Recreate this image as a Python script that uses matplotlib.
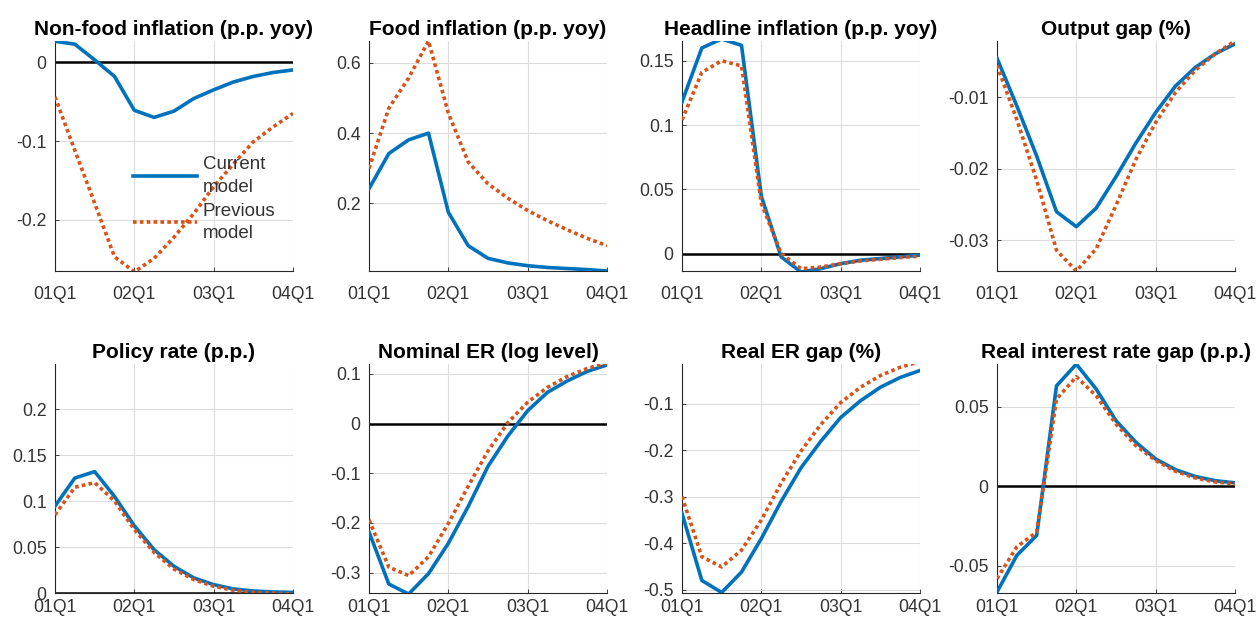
import matplotlib
matplotlib.use("Agg")
import matplotlib.pyplot as plt
from matplotlib.ticker import FormatStrFormatter

plt.rcParams['font.family'] = ['Liberation Sans', 'DejaVu Sans']

quarters = ['01Q1', '01Q2', '01Q3', '01Q4', '02Q1', '02Q2', '02Q3', '02Q4',
            '03Q1', '03Q2', '03Q3', '03Q4', '04Q1']
tick_labels = ['01Q1', '02Q1', '03Q1', '04Q1']

titles = ['Non-food inflation (p.p. yoy)', 'Food inflation (p.p. yoy)',
          'Headline inflation (p.p. yoy)', 'Output gap (%)',
          'Policy rate (p.p.)', 'Nominal ER (log level)',
          'Real ER gap (%)', 'Real interest rate gap (p.p.)']

# current model (blue) and previous model (red) per panel
nonfood_cur = [0.0266, 0.023, 0.003, -0.018, -0.061, -0.070, -0.062, -0.046,
               -0.035, -0.025, -0.018, -0.013, -0.0097]
nonfood_prev = [-0.044, -0.112, -0.179, -0.247, -0.266, -0.249, -0.222, -0.192,
                -0.158, -0.129, -0.101, -0.082, -0.065]
food_cur = [0.242, 0.342, 0.381, 0.400, 0.175, 0.080, 0.044, 0.031,
            0.023, 0.018, 0.015, 0.012, 0.008]
food_prev = [0.300, 0.471, 0.557, 0.662, 0.457, 0.318, 0.256, 0.215,
             0.180, 0.151, 0.125, 0.101, 0.080]
headline_cur = [0.118, 0.160, 0.167, 0.162, 0.0445, -0.0026, -0.0144, -0.0118,
                -0.0079, -0.0052, -0.0039, -0.0026, -0.0013]
headline_prev = [0.104, 0.141, 0.150, 0.146, 0.039, 0.0, -0.0118, -0.0105,
                 -0.0079, -0.0058, -0.0045, -0.0031, -0.0021]
gap_cur = [-0.0045, -0.0112, -0.0182, -0.0260, -0.0281, -0.0255, -0.0211, -0.0164,
           -0.0121, -0.0084, -0.0058, -0.0039, -0.0025]
gap_prev = [-0.0055, -0.0131, -0.0216, -0.0314, -0.0343, -0.0312, -0.0251, -0.0187,
            -0.0135, -0.0093, -0.0062, -0.0039, -0.0021]
policy_cur = [0.0945, 0.125, 0.132, 0.105, 0.073, 0.047, 0.029, 0.0164,
              0.0091, 0.0044, 0.0022, 0.0011, 0.0007]
policy_prev = [0.085, 0.115, 0.120, 0.100, 0.069, 0.044, 0.026, 0.0145,
               0.0073, 0.0029, 0.0007, 0.0, -0.001]
ner_cur = [-0.218, -0.323, -0.343, -0.302, -0.241, -0.167, -0.086, -0.025,
           0.026, 0.063, 0.086, 0.105, 0.118]
ner_prev = [-0.194, -0.289, -0.306, -0.268, -0.201, -0.126, -0.055, 0.002,
            0.043, 0.073, 0.095, 0.111, 0.122]
rer_cur = [-0.336, -0.480, -0.506, -0.462, -0.390, -0.310, -0.238, -0.181,
           -0.130, -0.094, -0.065, -0.044, -0.029]
rer_prev = [-0.300, -0.429, -0.451, -0.415, -0.350, -0.271, -0.202, -0.145,
            -0.098, -0.065, -0.040, -0.022, -0.010]
rir_cur = [-0.0664, -0.0434, -0.0309, 0.0630, 0.0766, 0.0610, 0.0411, 0.0276,
           0.0171, 0.0104, 0.0061, 0.0035, 0.0021]
rir_prev = [-0.058, -0.038, -0.0288, 0.0547, 0.0687, 0.0568, 0.0390, 0.0255,
            0.0161, 0.0094, 0.0052, 0.0027, 0.0015]

current = [nonfood_cur, food_cur, headline_cur, gap_cur,
           policy_cur, ner_cur, rer_cur, rir_cur]
previous = [nonfood_prev, food_prev, headline_prev, gap_prev,
            policy_prev, ner_prev, rer_prev, rir_prev]

ylims = [(-0.265, 0.027), (0.008, 0.662), (-0.0136, 0.1654), (-0.0343, -0.0021),
         (0, 0.249), (-0.341, 0.120), (-0.507, -0.015), (-0.067, 0.0767)]
yticks = [[-0.2, -0.1, 0], [0.2, 0.4, 0.6], [0, 0.05, 0.1, 0.15],
          [-0.03, -0.02, -0.01], [0, 0.05, 0.1, 0.15, 0.2],
          [-0.3, -0.2, -0.1, 0, 0.1], [-0.5, -0.4, -0.3, -0.2, -0.1],
          [-0.05, 0, 0.05]]

W, H = 1259, 620
fig = plt.figure(figsize=(W / 100, H / 100), dpi=100)

lefts = [55, 369, 682, 997]
rows = [(41, 271), (364, 593)]
blue = '#0072BD'
red = '#D95319'
txt = '#333333'
x = list(range(len(quarters)))

for i in range(8):
    top, bot = rows[i // 4]
    left = lefts[i % 4]
    ax = fig.add_axes([left / W, (H - bot) / H, 238 / W, (bot - top) / H])
    ax.axhline(0, color='black', lw=1.8, zorder=2)
    ax.plot(x, current[i], color=blue, lw=2.6, zorder=3, label='Current\nmodel')
    ax.plot(x, previous[i], color=red, lw=2.6, ls=(0, (1.0, 0.9)),
            dash_capstyle='butt', zorder=4, label='Previous\nmodel')
    ax.set_xlim(0, 12)
    ax.set_ylim(*ylims[i])
    ax.set_xticks([0, 4, 8, 12])
    ax.set_xticklabels(tick_labels)
    ax.set_yticks(yticks[i])
    ax.yaxis.set_major_formatter(FormatStrFormatter('%g'))
    ax.grid(True, color='#dcdcdc', lw=0.8)
    ax.set_axisbelow(True)
    for s in ['top', 'right']:
        ax.spines[s].set_visible(False)
    for s in ['left', 'bottom']:
        ax.spines[s].set_color('#262626')
        ax.spines[s].set_linewidth(0.8)
    ax.tick_params(axis='both', direction='in', length=3, labelsize=12.7,
                   colors='#262626', labelcolor=txt, width=0.6)
    ax.tick_params(axis='x', pad=11 if i < 4 else 4)
    ax.tick_params(axis='y', pad=6)
    ax.set_title(titles[i], fontsize=15, fontweight='bold', pad=4)
    if i == 0:
        leg = ax.legend(loc='upper left', bbox_to_anchor=(0.29, 0.54), frameon=False,
                        fontsize=13.5, handlelength=3.4, handletextpad=0.3,
                        labelspacing=0.35, borderpad=0)
        for t in leg.get_texts():
            t.set_linespacing(1.45)
            t.set_color(txt)

fig.savefig('out.png', dpi=100)
